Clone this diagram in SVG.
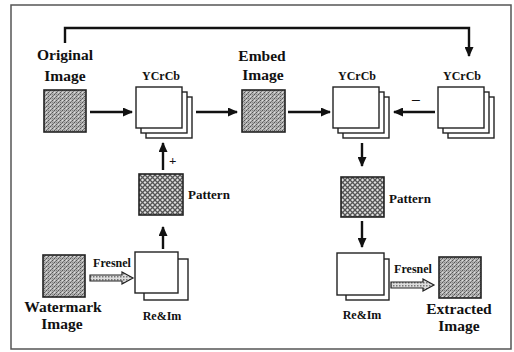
<svg xmlns="http://www.w3.org/2000/svg" width="514" height="352" viewBox="0 0 514 352">
<defs>
<style>
text{font-family:"Liberation Serif","Times New Roman",serif;fill:#111}
.big{font-size:15.5px;font-weight:bold}
.sm{font-size:12px;font-weight:bold}
.pt{font-size:13px;font-weight:bold}
.layer{fill:#fff;stroke:#222;stroke-width:1.4}
.img{fill:url(#halftone);stroke:#222;stroke-width:1.6}
.pat{fill:url(#hatch);stroke:#222;stroke-width:1.6}
.con{fill:none;stroke:#111;stroke-width:2.4}
.hollow{fill:url(#dots);stroke:#222;stroke-width:1.2}
</style>
<pattern id="halftone" width="4" height="4" patternUnits="userSpaceOnUse">
<rect width="4" height="4" fill="#b4b4b4"/>
<rect x="0" y="0" width="1" height="1" fill="#555"/>
<rect x="2" y="2" width="1" height="1" fill="#555"/>
<rect x="1" y="3" width="1" height="1" fill="#777"/>
<rect x="3" y="1" width="1" height="1" fill="#777"/>
<rect x="2" y="0" width="1" height="1" fill="#ddd"/>
<rect x="0" y="2" width="1" height="1" fill="#888"/>
</pattern>
<pattern id="hatch" width="5" height="5" patternUnits="userSpaceOnUse">
<rect width="5" height="5" fill="#e0e0e0"/>
<path d="M0,0 L5,5 M5,0 L0,5" stroke="#555" stroke-width="1.3"/>
</pattern>
<pattern id="dots" width="3" height="3" patternUnits="userSpaceOnUse">
<rect width="3" height="3" fill="#ddd"/>
<rect x="0" y="0" width="1.5" height="1.5" fill="#777"/>
</pattern>
<marker id="ah" markerWidth="10" markerHeight="9" refX="9" refY="4.5" orient="auto" markerUnits="userSpaceOnUse">
<path d="M0,0 L10,4.5 L0,9 Z" fill="#111"/>
</marker>
</defs>
<rect x="0" y="0" width="514" height="352" fill="#fff"/>
<rect x="11" y="5" width="500" height="344" fill="none" stroke="#555" stroke-width="1.5"/>

<g id="connectors">
<path class="con" d="M65,43 V28 H469 V56" marker-end="url(#ah)"/>
<line class="con" x1="90" y1="112" x2="132" y2="112" marker-end="url(#ah)"/>
<line class="con" x1="196" y1="112" x2="237" y2="112" marker-end="url(#ah)"/>
<line class="con" x1="288" y1="112" x2="330" y2="112" marker-end="url(#ah)"/>
<line class="con" x1="435" y1="112" x2="394" y2="112" marker-end="url(#ah)"/>
<line class="con" x1="163" y1="170" x2="163" y2="143" marker-end="url(#ah)"/>
<line class="con" x1="163" y1="249" x2="163" y2="227" marker-end="url(#ah)"/>
<line class="con" x1="362" y1="143" x2="362" y2="166" marker-end="url(#ah)"/>
<line class="con" x1="362" y1="221" x2="362" y2="247" marker-end="url(#ah)"/>
<polygon class="hollow" points="90,275 122,275 122,272 133,278 122,284 122,281 90,281"/>
<polygon class="hollow" points="391,282 423,282 423,279 434,285 423,291 423,288 391,288"/>
<text x="169" y="165" style="font-size:13px;font-weight:bold">+</text>
<text class="big" x="412" y="104">–</text>
<text class="sm" x="112" y="267" text-anchor="middle">Fresnel</text>
<text class="sm" x="413" y="273" text-anchor="middle">Fresnel</text>
</g>

<g id="original">
<text class="big" x="65" y="60" text-anchor="middle">Original</text>
<text class="big" x="65" y="81" text-anchor="middle">Image</text>
<rect class="img" x="44" y="90" width="42" height="42"/>
</g>

<g id="ycrcb1">
<text class="sm" x="161" y="80" text-anchor="middle">YCrCb</text>
<rect class="layer" x="146" y="97" width="46" height="41"/>
<rect class="layer" x="141" y="92" width="46" height="41"/>
<rect class="layer" x="136" y="87" width="46" height="41"/>
</g>

<g id="embed">
<text class="big" x="262" y="61" text-anchor="middle">Embed</text>
<text class="big" x="263" y="80" text-anchor="middle">Image</text>
<rect class="img" x="242" y="90" width="43" height="42"/>
</g>

<g id="ycrcb2">
<text class="sm" x="357" y="80" text-anchor="middle">YCrCb</text>
<rect class="layer" x="343" y="97" width="46" height="41"/>
<rect class="layer" x="338" y="92" width="46" height="41"/>
<rect class="layer" x="333" y="87" width="46" height="41"/>
</g>

<g id="ycrcb3">
<text class="sm" x="462" y="80" text-anchor="middle">YCrCb</text>
<rect class="layer" x="448" y="97" width="46" height="41"/>
<rect class="layer" x="443" y="92" width="46" height="41"/>
<rect class="layer" x="438" y="87" width="46" height="41"/>
</g>

<g id="pattern1">
<rect class="pat" x="139" y="174" width="44" height="41"/>
<text class="pt" x="188" y="199">Pattern</text>
</g>

<g id="pattern2">
<rect class="pat" x="341" y="177" width="43" height="40"/>
<text class="pt" x="389" y="203">Pattern</text>
</g>

<g id="watermark">
<rect class="img" x="43" y="255" width="42" height="42"/>
<text class="big" x="63" y="312" text-anchor="middle">Watermark</text>
<text class="big" x="62" y="329" text-anchor="middle">Image</text>
</g>

<g id="reim1">
<rect class="layer" x="144" y="259" width="44" height="41"/>
<rect class="layer" x="135" y="252" width="43" height="41"/>
<text class="sm" x="162" y="320" text-anchor="middle">Re&amp;Im</text>
</g>

<g id="reim2">
<rect class="layer" x="346" y="259" width="43" height="41"/>
<rect class="layer" x="337" y="253" width="47" height="42"/>
<text class="sm" x="362" y="319" text-anchor="middle">Re&amp;Im</text>
</g>

<g id="extracted">
<rect class="img" x="439" y="257" width="42" height="41"/>
<text class="big" x="459" y="314" text-anchor="middle">Extracted</text>
<text class="big" x="459" y="331" text-anchor="middle">Image</text>
</g>
</svg>
